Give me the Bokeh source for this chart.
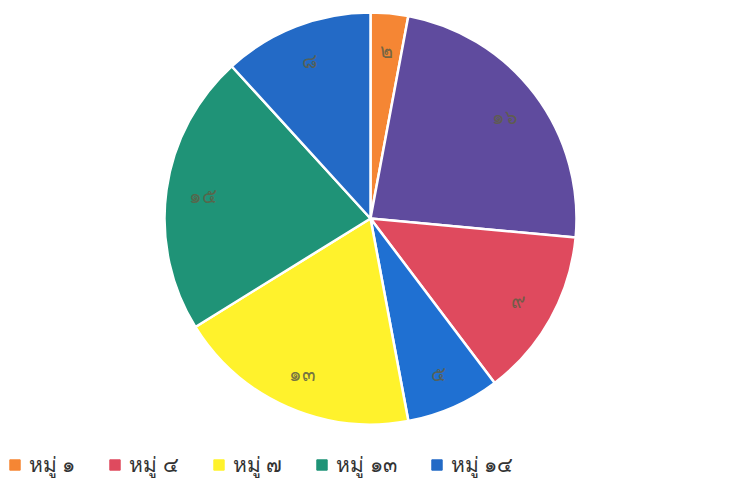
import math
from bokeh.plotting import figure
from bokeh.models import ColumnDataSource, Legend, LegendItem
from bokeh.core.properties import value
from bokeh.embed import file_html
from bokeh.resources import INLINE

# data (clockwise from 12 o'clock)
slice_values = [2, 16, 9, 5, 13, 15, 8]
slice_labels = ["๒", "๑๖", "๙", "๕", "๑๓", "๑๕", "๘"]
slice_colors = ["#F58634", "#5F4B9E", "#DF4A5E", "#1F70D2", "#FFF22C", "#1F9377", "#236AC6"]
legend_names = ["หมู่ ๑", "หมู่ ๔", "หมู่ ๗", "หมู่ ๑๓", "หมู่ ๑๔"]
legend_colors = ["#F58634", "#DF4A5E", "#FFF22C", "#1F9377", "#236AC6"]

W, H = 713, 481
cx, cy, R = 370, 263, 206

total = sum(slice_values)
starts, ends, lx, ly = [], [], [], []
cum = 0.0
for v in slice_values:
    a0 = math.pi / 2 - 2 * math.pi * cum / total
    a1 = math.pi / 2 - 2 * math.pi * (cum + v) / total
    starts.append(a0)
    ends.append(a1)
    mid = (a0 + a1) / 2
    lx.append(cx + 0.82 * R * math.cos(mid))
    ly.append(cy + 0.82 * R * math.sin(mid))
    cum += v

src = ColumnDataSource(dict(start=starts, end=ends, color=slice_colors,
                            lx=lx, ly=ly, label=slice_labels))

p = figure(width=W, height=H, x_range=(0, W), y_range=(0, H),
           output_backend="svg", toolbar_location=None, min_border=0)
p.axis.visible = False
p.grid.visible = False
p.outline_line_color = None
p.background_fill_color = "white"

p.wedge(x=cx, y=cy, radius=R, start_angle="start", end_angle="end",
        direction="clock", fill_color="color", line_color="white",
        line_width=2.5, source=src)

p.text(x="lx", y="ly", text="label", source=src, text_align="center",
       text_baseline="middle", text_font_size="20px",
       text_font=value("Noto Sans"), text_color="#5f5f45", text_alpha=0.85)

items = []
for name, col in zip(legend_names, legend_colors):
    r = p.rect(x=[-1000], y=[-1000], width=1, height=1, fill_color=col,
               line_color=col)
    items.append(LegendItem(label=name, renderers=[r]))

legend = Legend(items=items, orientation="horizontal", location=(8, 0),
                glyph_width=13, glyph_height=13, label_standoff=8,
                spacing=33, label_text_font_size="21px",
                label_text_font="Noto Sans", label_text_font_style="normal",
                label_text_color="#333333",
                border_line_color=None, background_fill_alpha=0,
                padding=2, margin=0)
p.add_layout(legend)

open("out.html", "w").write(file_html(p, INLINE))
